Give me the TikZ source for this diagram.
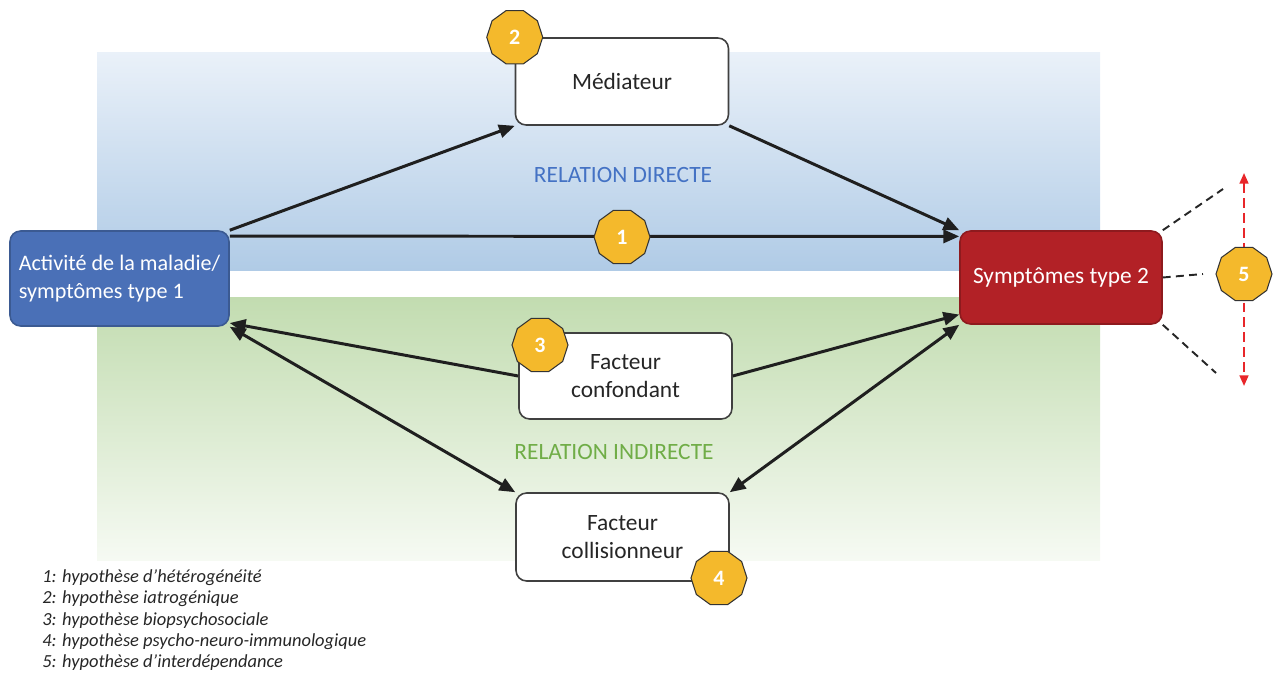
\documentclass[tikz,border=0pt]{standalone}
\usepackage{fontspec}
\setmainfont{Carlito}
\usepackage{xcolor}
\usetikzlibrary{arrows.meta,shapes.geometric,positioning}
\definecolor{boxline}{HTML}{404040}
\definecolor{txt}{HTML}{262626}
\definecolor{actblue}{HTML}{4A70B7}
\definecolor{symred}{HTML}{B22126}
\definecolor{numfill}{HTML}{F4B92C}
\definecolor{dirblue}{HTML}{4472C4}
\definecolor{indgreen}{HTML}{70AD47}
\definecolor{redarr}{HTML}{E8262A}

\begin{document}
\begin{tikzpicture}[x=0.02cm,y=-0.02cm,>={Triangle[length=9pt,width=7.5pt]},
  box/.style={draw=boxline,fill=white,rounded corners=6pt,line width=0.9pt,
    minimum width=4.26cm,minimum height=1.74cm,align=center,text=txt,
    font=\fontsize{13.3}{15.5}\selectfont},
  num/.style={regular polygon,regular polygon sides=10,draw=black!80,fill=numfill,
    line width=0.6pt,minimum size=1.12cm,inner sep=0pt,text=white,
    font=\bfseries\fontsize{12.5}{14}\selectfont},
  link/.style={line width=1.7pt,draw=black!88},
  rel/.style={font=\fontsize{13.3}{15.5}\selectfont}]
\useasboundingbox (0,0) rectangle (1277,673);

% bands
\fill[top color={rgb,255:red,234;green,241;blue,249},bottom color={rgb,255:red,176;green,203;blue,230}] (97,52) rectangle (1100,270);
\fill[top color={rgb,255:red,194;green,220;blue,176},middle color={rgb,255:red,208;green,228;blue,194},bottom color={rgb,255:red,246;green,250;blue,243}] (97,297) rectangle (1100,560);

% nodes
\node[box,draw=actblue!80!black,fill=actblue,text=white,align=left,inner sep=2pt,minimum width=4.38cm,minimum height=1.9cm,
  font=\fontsize{12.6}{16}\selectfont] (act) at (119.5,278.5) {Activité de la maladie/\\symptômes type 1};
\node[box,draw=symred!80!black,fill=symred,text=white,minimum width=4.04cm,minimum height=1.86cm] (sym) at (1061,277.5) {Symptômes type 2};
\node[box] (med) at (622,81.5) {Médiateur};
\node[box,minimum height=1.72cm] (conf) at (625.5,376) {Facteur\\confondant};
\node[box,minimum height=1.76cm] (coll) at (622.5,537) {Facteur\\collisionneur};

\node[rel,text=dirblue] (dir) at (623,175) {RELATION DIRECTE};
\node[rel,text=indgreen] (ind) at (614,452) {RELATION INDIRECTE};

% connectors
\path (act.north east) edge [link,->] (med.south west);
\path (med.south east) edge [link,->] (sym.north west);
\path (act.21) edge [link,->] (sym.158);
\path (conf.west) edge [link,->] (act.-22);
\path (conf.east) edge [link,->] (sym.200);
\path (act.south east) edge [link,<->] (coll.north west);
\path (sym.south west) edge [link,<->] (coll.north east);

% interdependance
\coordinate (d1) at (1223,189);
\coordinate (d2) at (1203,274);
\coordinate (d3) at (1216,373);
\coordinate (r1) at (1244,173);
\coordinate (r2) at (1244,386);
\draw[dash pattern=on 4.5pt off 3pt,line width=1.1pt,black!85] (sym.north east) -- (d1);
\draw[dash pattern=on 4.5pt off 3pt,line width=1.1pt,black!85] (sym.east) -- (d2);
\draw[dash pattern=on 4.5pt off 3pt,line width=1.1pt,black!85] (sym.south east) -- (d3);
\draw[redarr,line width=1.1pt,dash pattern=on 5.5pt off 3pt,{Triangle[length=6pt,width=5pt]}-{Triangle[length=6pt,width=5pt]}] (r1) -- (r2);

% numbers
\node[num] (n1) at (622,237) {1};
\node[num] (n2) at (med.north west) {2};
\node[num] (n3) at (540,345) {3};
\node[num] (n4) at (719,578) {4};
\node[num] (n5) at (1244,274) {5};

% legend
\node[anchor=north west,inner sep=0pt,align=left,text=txt,
  font=\itshape\fontsize{10.5}{12.2}\selectfont] (leg) at (42,569)
  {1: hypothèse d’hétérogénéité\\2: hypothèse iatrogénique\\3: hypothèse biopsychosociale\\4: hypothèse psycho-neuro-immunologique\\5: hypothèse d’interdépendance};
\end{tikzpicture}
\end{document}
